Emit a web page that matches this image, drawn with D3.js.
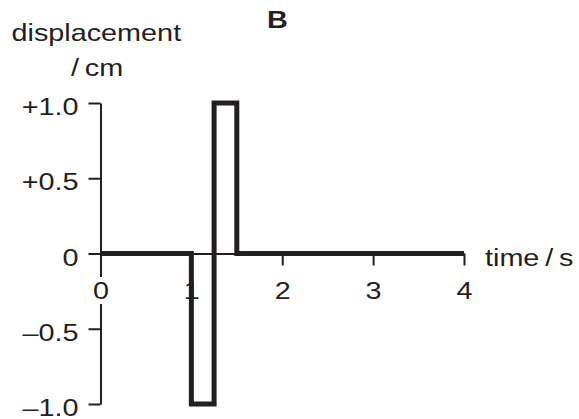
<!DOCTYPE html>
<html>
<head>
<meta charset="utf-8">
<script src="https://cdn.jsdelivr.net/npm/d3@7"></script>
<style>
  html, body { margin: 0; padding: 0; background: #fff; }
  svg text { font-family: "Liberation Sans", Arial, Helvetica, sans-serif; fill: #231f20; }
</style>
</head>
<body>
<div id="chart"></div>
<script>
// signal: displacement steps (value holds from time[i] until time[i+1])
const times = [0, 1, 1.25, 1.5, 4];
const displacement = [0, -1, 1, 0, 0];

const xTicks = [0, 1, 2, 3, 4];
const yTicks = [1, 0.5, 0, -0.5, -1];
const yTickLabels = ['+1.0', '+0.5', '0', '\u20130.5', '\u20131.0'];

const W = 579, H = 419;
const ink = '#231f20';
const fs = 24;
const stretch = 1.2; // text in the reference is drawn horizontally widened

const svg = d3.select('#chart').append('svg').attr('width', W).attr('height', H);

const x = d3.scaleLinear().domain([0, 4]).range([100.5, 464]);
const y = d3.scaleLinear().domain([-1, 1]).range([404, 103]);

// widen a text element horizontally around its own anchor
function widen(sel) {
  sel.each(function () {
    const t = d3.select(this);
    const x0 = +t.attr('x') || 0;
    t.attr('x', x0 / stretch).attr('transform', `scale(${stretch},1)`);
  });
}

// x axis on the zero line
const gx = svg.append('g').attr('transform', `translate(0,${y(0)})`)
  .call(d3.axisBottom(x).tickValues(xTicks).tickSize(12).tickSizeOuter(0).tickPadding(16).tickFormat(d3.format('d')));

// y axis
const gy = svg.append('g').attr('transform', `translate(${x(0)},0)`)
  .call(d3.axisLeft(y).tickValues(yTicks).tickSize(12).tickSizeOuter(0).tickPadding(10)
    .tickFormat((d, i) => yTickLabels[i]));

[gx, gy].forEach(g => {
  g.select('.domain').attr('stroke', ink).attr('stroke-width', 2);
  g.selectAll('.tick line').attr('stroke', ink).attr('stroke-width', 2);
  g.selectAll('.tick text').attr('font-size', fs).attr('fill', ink)
    .style('font-family', '"Liberation Sans", Arial, sans-serif');
});
gy.selectAll('.tick text').attr('dy', '0.48em');
gx.selectAll('.tick text').attr('dy', '0.71em');

// x label "0" sits on a white patch that breaks the y axis line
gx.selectAll('.tick text').filter(d => d === 0)
  .attr('stroke', '#fff').attr('stroke-width', 10).attr('paint-order', 'stroke');
gx.raise();

gx.selectAll('.tick text').call(widen);
gy.selectAll('.tick text').call(widen);

// signal trace
const pts = times.map((t, i) => [t, displacement[i]]);
svg.append('path')
  .datum(pts)
  .attr('fill', 'none')
  .attr('stroke', ink)
  .attr('stroke-width', 5)
  .attr('stroke-linejoin', 'miter')
  .attr('d', d3.line().x(d => x(d[0])).y(d => y(d[1])).curve(d3.curveStepAfter));

// titles and axis names
const labels = [
  { text: 'displacement', x: 11.5, y: 41.5, weight: 'normal' },
  { text: '/\u2009cm', x: 71, y: 76, weight: 'normal' },
  { text: 'B', x: 267, y: 28, weight: 'bold' },
  { text: 'time\u2009/\u2009s', x: x(4) + 21, y: y(0) + 12.5, weight: 'normal' }
];
svg.selectAll('text.lbl').data(labels).join('text')
  .attr('class', 'lbl')
  .attr('x', d => d.x)
  .attr('y', d => d.y)
  .attr('font-size', fs)
  .attr('font-weight', d => d.weight)
  .text(d => d.text)
  .call(widen);
</script>
</body>
</html>
